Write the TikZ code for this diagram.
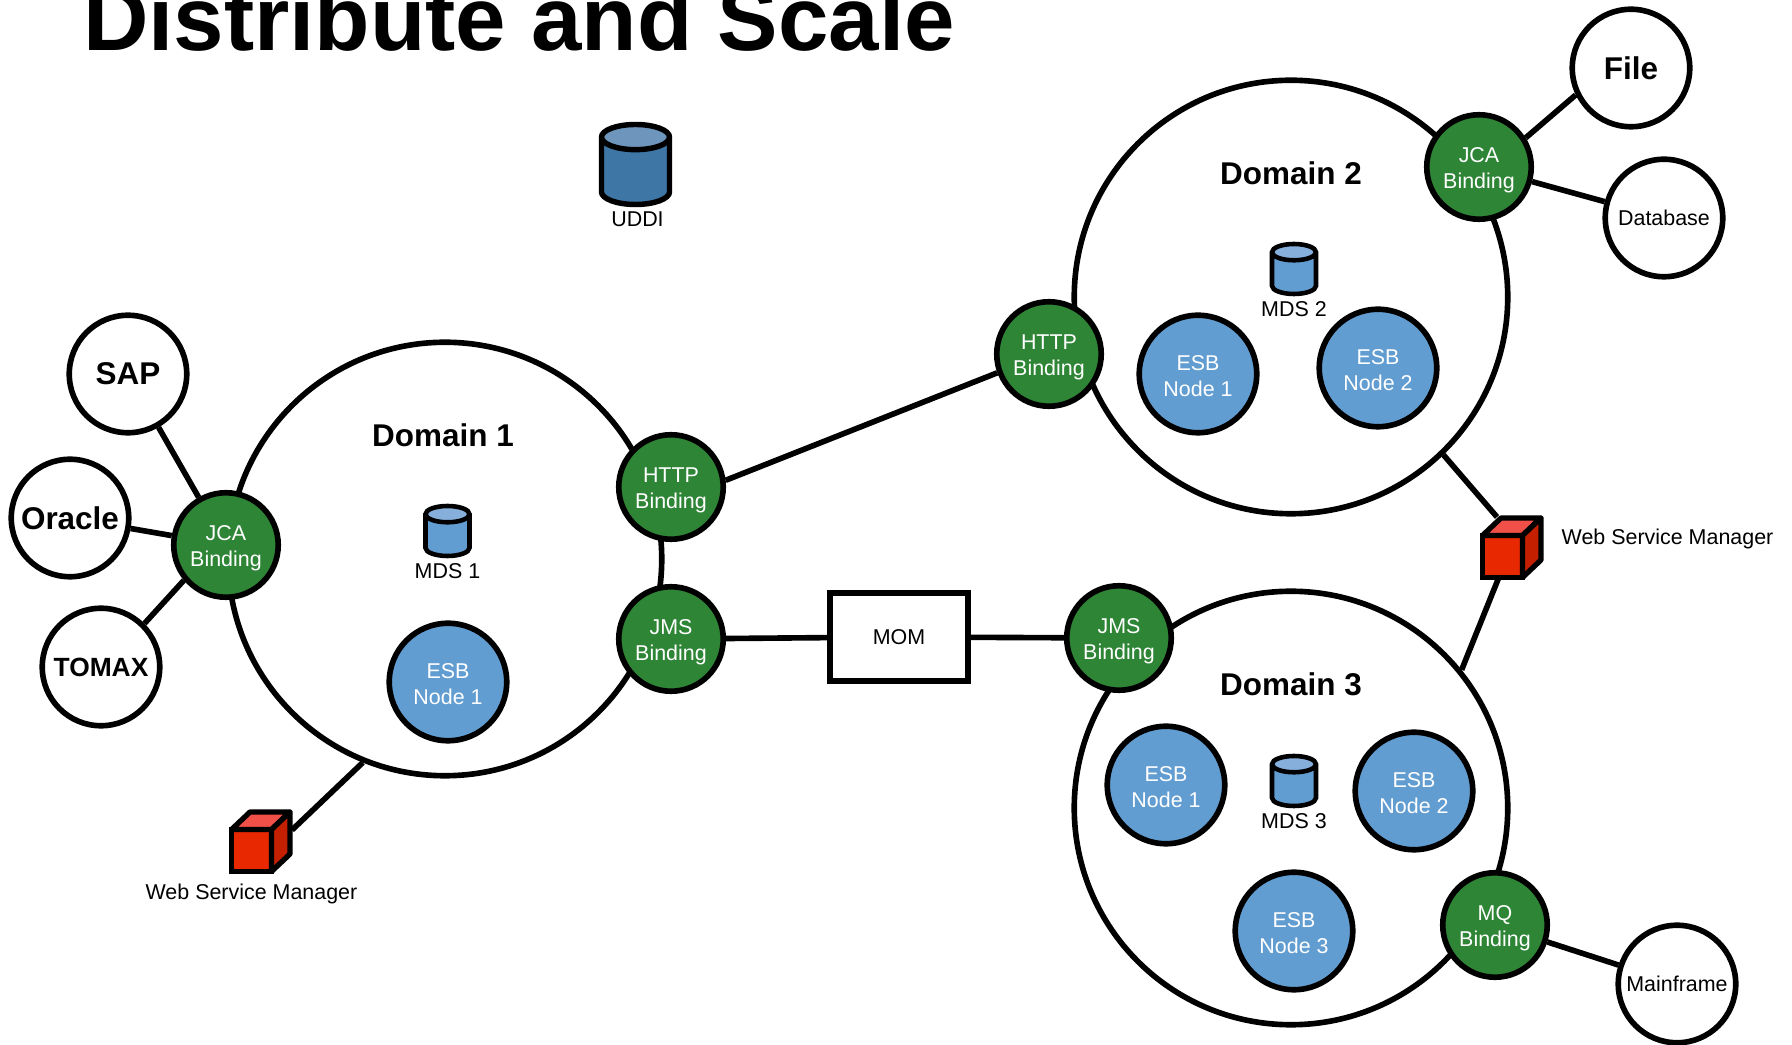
\documentclass[tikz,border=0pt]{standalone}
\usepackage{fontspec}
\setmainfont{Liberation Sans}
\usepackage{tikz}
\usetikzlibrary{shapes.geometric,positioning}
\definecolor{bindgreen}{HTML}{2E8536}
\definecolor{esbblue}{HTML}{629DD1}
\definecolor{esbtop}{HTML}{86B0DB}
\definecolor{uddiblue}{HTML}{3E76A6}
\definecolor{uddtop}{HTML}{6E95BC}
\definecolor{cubefront}{HTML}{E82800}
\definecolor{cubetop}{HTML}{F05048}
\definecolor{cubeside}{HTML}{C42000}
\newcommand{\smallfont}{\fontsize{12.2}{15}\selectfont}
\newcommand{\bigfont}{\fontsize{17.9}{21}\selectfont\bfseries}
\newcommand{\twolines}[2]{\rule{0pt}{12.4pt}#1\\#2}
\newcommand{\esblines}[1]{\rule{0pt}{10.6pt}ESB\\Node #1}
\tikzstyle{domcircle} = [circle, draw, fill=white, line width=3.2pt, minimum size=8.67cm, inner sep=0pt]
\tikzstyle{binding} = [circle, draw, fill=bindgreen, text=white, line width=3.2pt, minimum size=2.09cm, inner sep=0pt, align=center, font=\smallfont]
\tikzstyle{esb} = [circle, draw, fill=esbblue, text=white, line width=3.2pt, minimum size=2.35cm, inner sep=0pt, align=center, font=\smallfont]
\tikzstyle{system} = [circle, draw, fill=white, line width=3.2pt, minimum size=2.35cm, inner sep=0pt, align=center, font=\smallfont]
\tikzstyle{store} = [cylinder, shape border rotate=90, draw, cylinder uses custom fill, inner ysep=0pt]
\tikzstyle{mds} = [store, line width=2.6pt, cylinder body fill=esbblue, cylinder end fill=esbtop, inner xsep=.44cm, minimum width=.88cm, minimum height=1cm, shape aspect=.37]
\tikzstyle{uddi} = [store, line width=3.1pt, cylinder body fill=uddiblue, cylinder end fill=uddtop, inner xsep=.68cm, minimum width=1.36cm, minimum height=1.6cm, shape aspect=.37]
\tikzstyle{cube} = [rectangle, draw, fill=cubefront, line width=3pt, minimum width=.8cm, minimum height=.84cm, inner sep=0pt, outer sep=0pt]
\tikzstyle{cubeface} = [draw, line width=3pt, line join=round]
\tikzstyle{caption} = [inner sep=0pt, font=\smallfont]
\tikzstyle{heading} = [inner sep=0pt, font=\bigfont]
\tikzstyle{line} = [draw, line width=3.2pt]

\begin{document}
\begin{tikzpicture}[align=center,node distance=4cm]
    \useasboundingbox (-8.9,11.18) rectangle (26.94,-9.72);
    % Place domains
    \node [domcircle] (dom1) at (0,0) {};
    \node [domcircle, right of=dom1, xshift=12.92cm, yshift=-4.98cm] (dom3) {};
    \node [domcircle, above of=dom3, yshift=6.22cm] (dom2) {};
    \node [inner sep=0pt, font=\fontsize{51.6}{60}\selectfont\bfseries, above of=dom1, xshift=1.48cm, yshift=6.82cm] (title) {Distribute and Scale};
    \node [heading, above of=dom1, xshift=-0.04cm, yshift=-1.52cm] (lab1) {Domain 1};
    \node [heading, above of=dom2, yshift=-1.52cm] (lab2) {Domain 2};
    \node [heading, above of=dom3, yshift=-1.52cm] (lab3) {Domain 3};
    % Place bindings
    \node [binding, left of=dom1, xshift=-0.38cm, yshift=0.28cm] (jca1) {\twolines{JCA}{Binding}};
    \node [binding, right of=dom1, xshift=0.52cm, yshift=1.44cm] (http1) {\twolines{HTTP}{Binding}};
    \node [binding, below of=http1, yshift=0.96cm] (jms1) {\twolines{JMS}{Binding}};
    \node [binding, left of=dom2, xshift=-0.84cm, yshift=-1.14cm] (http2) {\twolines{HTTP}{Binding}};
    \node [binding, right of=dom2, xshift=-0.24cm, yshift=2.6cm] (jca2) {\twolines{JCA}{Binding}};
    \node [binding, left of=dom3, xshift=0.56cm, yshift=3.4cm] (jms3) {\twolines{JMS}{Binding}};
    \node [binding, right of=dom3, xshift=0.08cm, yshift=-2.34cm] (mq) {\twolines{MQ}{Binding}};
    % Place ESB nodes
    \node [esb, below of=dom1, xshift=0.06cm, yshift=1.54cm] (esb11) {\esblines{1}};
    \node [esb, below of=dom2, xshift=-1.86cm, yshift=2.46cm] (esb21) {\esblines{1}};
    \node [esb, below of=dom2, xshift=1.74cm, yshift=2.58cm] (esb22) {\esblines{2}};
    \node [esb, left of=dom3, xshift=1.5cm, yshift=0.46cm] (esb31) {\esblines{1}};
    \node [esb, right of=dom3, xshift=-1.54cm, yshift=0.34cm] (esb32) {\esblines{2}};
    \node [esb, below of=dom3, xshift=0.06cm, yshift=1.54cm] (esb33) {\esblines{3}};
    % Place stores
    \node [uddi, above of=dom1, xshift=3.81cm, yshift=3.89cm, anchor=shape center] (uddi) {};
    \node [caption, above of=dom1, xshift=3.85cm, yshift=2.8cm] (uddilab) {UDDI};
    \node [mds, above of=dom1, xshift=0.05cm, yshift=-3.44cm, anchor=shape center] (mds1) {};
    \node [caption, below of=dom1, xshift=0.05cm, yshift=3.76cm] (mdslab1) {MDS 1};
    \node [mds, above of=dom2, xshift=0.06cm, yshift=-3.44cm, anchor=shape center] (mds2) {};
    \node [caption, below of=dom2, xshift=0.06cm, yshift=3.76cm] (mdslab2) {MDS 2};
    \node [mds, above of=dom3, xshift=0.06cm, yshift=-3.46cm, anchor=shape center] (mds3) {};
    \node [caption, below of=dom3, xshift=0.06cm, yshift=3.74cm] (mdslab3) {MDS 3};
    % Place outside systems
    \node [system, font=\bigfont, above of=jca1, xshift=-1.96cm, yshift=-0.58cm] (sap) {SAP};
    \node [system, font=\bigfont, left of=jca1, xshift=0.88cm, yshift=0.54cm] (oracle) {Oracle};
    \node [system, font=\fontsize{15}{18}\selectfont\bfseries, below of=jca1, xshift=-2.5cm, yshift=1.56cm] (tomax) {TOMAX};
    \node [system, font=\bigfont, right of=jca2, xshift=-0.96cm, yshift=1.98cm] (file) {File};
    \node [system, right of=jca2, xshift=-0.3cm, yshift=-1.02cm] (database) {Database};
    \node [system, right of=mq, xshift=-0.36cm, yshift=-1.18cm] (mainframe) {Mainframe};
    \node [rectangle, draw, fill=white, line width=3.2pt, minimum width=2.76cm, minimum height=1.76cm, inner sep=0pt, font=\smallfont, left of=jms3, xshift=-0.4cm, yshift=0.02cm] (mom) {MOM};
    % Place managers
    \node [cube, below of=dom1, xshift=-3.87cm, yshift=-1.83cm] (wsm1) {};
    \node [caption, below of=wsm1, yshift=3.13cm] (wsmlab1) {Web Service Manager};
    \node [cube, above of=dom3, xshift=4.23cm, yshift=1.03cm] (wsm2) {};
    \node [caption, right of=wsm2, xshift=-0.7cm, yshift=0.35cm] (wsmlab2) {Web Service Manager};
    \foreach \c in {wsm1,wsm2} {
        \path [cubeface, fill=cubetop] (\c.north west) -- ++(.37,.35) -- ++(.8,0) -- (\c.north east) -- cycle;
        \path [cubeface, fill=cubeside] (\c.north east) -- ++(.37,.35) -- ++(0,-.84) -- (\c.south east) -- cycle;
    }
    \coordinate [right of=wsm1, xshift=-3.19cm, yshift=0.41cm] (wsm1side);
    \coordinate [above of=wsm2, xshift=-0.11cm, yshift=-3.21cm] (wsm2top);
    % Draw edges
    \path [line] (sap) -- (jca1);
    \path [line] (oracle) -- (jca1);
    \path [line] (tomax.45) -- (jca1.220);
    \path [line] (http1.7) -- (http2.200);
    \path [line] (jms1) -- (mom);
    \path [line] (mom) -- (jms3);
    \path [line] (jca2.32) -- (file.206);
    \path [line] (jca2) -- (database);
    \path [line] (mq) -- (mainframe);
    \path [line] (dom1.248) -- (wsm1side);
    \path [line] (dom2.314) -- (wsm2top);
    \path [line] (wsm2.260) -- (dom3.39);
\end{tikzpicture}
\end{document}
